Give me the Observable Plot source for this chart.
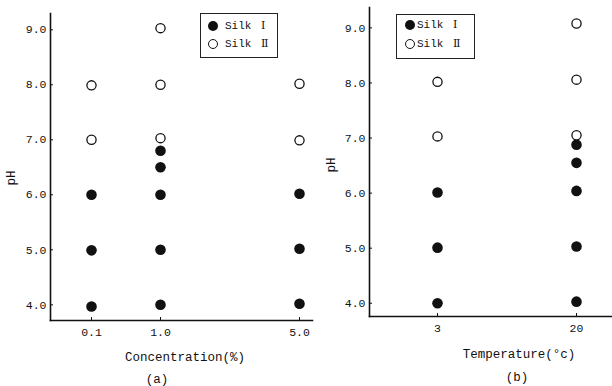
<!DOCTYPE html>
<html><head><meta charset="utf-8">
<script src="https://cdn.jsdelivr.net/npm/d3@7"></script>
<script src="https://cdn.jsdelivr.net/npm/@observablehq/plot@0.6"></script>
<style>
html,body{margin:0;padding:0;background:#fff;}
#wrap{position:relative;width:612px;height:386px;overflow:hidden;font-family:"Liberation Mono",monospace;color:#111;background:#fff;}
.panel{position:absolute;top:0;}
.panel svg{overflow:visible;background:transparent !important;}
.lbl{position:absolute;white-space:nowrap;font-size:12.5px;line-height:1;transform:translate(-50%,-50%);}
.ylbl{position:absolute;white-space:nowrap;font-size:12.5px;line-height:1;transform:translate(-50%,-50%) rotate(-90deg);}
.legend{position:absolute;border:1.4px solid #222;box-sizing:border-box;font-size:11px;background:#fff;}
.legend .mk{position:absolute;width:10px;height:10px;border-radius:50%;box-sizing:border-box;transform:translate(-50%,-50%);}
.legend .tx{position:absolute;white-space:nowrap;line-height:1;transform:translateY(-50%);}
.legend .num{font-family:"DejaVu Serif",serif;font-size:11px;margin-left:3px;}
</style>
</head><body>
<div id="wrap">
  <div class="panel" id="pa" style="left:0px"></div>
  <div class="panel" id="pb" style="left:306px"></div>
</div>
<script>
// ---- data ----
const seriesNames = ["Silk", "Silk"];
const seriesNumerals = ["Ⅰ", "Ⅱ"];
const yTicks = [4, 5, 6, 7, 8, 9];
const concTicks = [0.1, 1.0, 5.0];
const tempTicks = [3, 20];

// (a) pH vs concentration
const concSilkI_x  = [0.1, 0.1, 0.1, 1.0, 1.0, 1.0, 1.0, 1.0, 5.0, 5.0, 5.0];
const concSilkI_pH = [3.97, 4.99, 6.0, 4.0, 5.0, 6.0, 6.5, 6.8, 4.02, 5.02, 6.02];
const concSilkII_x  = [0.1, 0.1, 1.0, 1.0, 1.0, 5.0, 5.0];
const concSilkII_pH = [7.0, 7.99, 7.03, 8.0, 9.03, 6.99, 8.02];

// (b) pH vs temperature
const tempSilkI_x  = [3, 3, 3, 20, 20, 20, 20, 20];
const tempSilkI_pH = [4.0, 5.01, 6.01, 4.03, 5.03, 6.04, 6.55, 6.88];
const tempSilkII_x  = [3, 3, 20, 20, 20];
const tempSilkII_pH = [7.03, 8.02, 7.05, 8.06, 9.08];

const pts = (xs, ys) => xs.map((x, i) => ({x, y: ys[i]}));
const ink = "#111";
const fmt1 = d3.format(".1f");

function panel({width, marginLeft, marginRight, marginTop, marginBottom, yDomain, xScale, xTicks, xFmt, silkI, silkII}) {
  return Plot.plot({
    width, height: 386, marginLeft, marginRight, marginTop, marginBottom,
    style: {fontFamily: '"Liberation Mono", monospace', fontSize: "11.5px", color: ink, background: "transparent", overflow: "visible"},
    x: xScale,
    y: {domain: yDomain},
    marks: [
      Plot.frame({anchor: "left", stroke: ink, strokeWidth: 1.6}),
      Plot.frame({anchor: "bottom", stroke: ink, strokeWidth: 1.6}),
      Plot.axisY({ticks: yTicks, tickFormat: fmt1, tickSize: 0, tickPadding: 4, label: null}),
      Plot.axisY({ticks: yTicks, tickFormat: () => "", tickSize: 3, dx: 3, label: null, strokeWidth: 1}),
      Plot.axisX({ticks: xTicks, tickFormat: xFmt, tickSize: 0, tickPadding: 7, label: null}),
      Plot.axisX({ticks: xTicks, tickFormat: () => "", tickSize: 3, dy: -3, label: null, strokeWidth: 1}),
      Plot.dot(silkI, {x: "x", y: "y", r: 5.3, fill: ink, stroke: "none"}),
      Plot.dot(silkII, {x: "x", y: "y", r: 4.6, fill: "white", stroke: ink, strokeWidth: 1.3})
    ]
  });
}

document.getElementById("pa").appendChild(panel({
  width: 314, marginLeft: 50, marginRight: 2, marginTop: 13, marginBottom: 66,
  yDomain: [3.715, 9.296],
  xScale: {type: "linear", domain: concTicks, range: [91, 160, 299]},
  xTicks: concTicks, xFmt: fmt1,
  silkI: pts(concSilkI_x, concSilkI_pH), silkII: pts(concSilkII_x, concSilkII_pH)
}));

document.getElementById("pb").appendChild(panel({
  width: 306, marginLeft: 63, marginRight: 0, marginTop: 7, marginBottom: 70,
  yDomain: [3.76, 9.37],
  xScale: {type: "linear", domain: [3, 20], range: [131, 270]},
  xTicks: tempTicks, xFmt: d3.format("d"),
  silkI: pts(tempSilkI_x, tempSilkI_pH), silkII: pts(tempSilkII_x, tempSilkII_pH)
}));

// titles, captions and legends
const wrap = document.getElementById("wrap");
function addText(cls, text, x, y) {
  const d = document.createElement("div");
  d.className = cls; d.textContent = text;
  d.style.left = x + "px"; d.style.top = y + "px";
  wrap.appendChild(d);
}
addText("lbl", "Concentration(%)", 185, 358);
addText("lbl", "(a)", 157, 380);
addText("ylbl", "pH", 12, 178);
addText("lbl", "Temperature(°c)", 519, 355);
addText("lbl", "(b)", 517, 378);
addText("ylbl", "pH", 332, 165);

function addLegend(left, top, w, h, mx, rows, tx) {
  const box = document.createElement("div");
  box.className = "legend";
  Object.assign(box.style, {left: left + "px", top: top + "px", width: w + "px", height: h + "px"});
  seriesNames.forEach((name, i) => {
    const m = document.createElement("div");
    m.className = "mk";
    Object.assign(m.style, {left: mx + "px", top: rows[i] + "px"});
    if (i === 0) { m.style.background = ink; }
    else { m.style.background = "#fff"; m.style.border = "1.3px solid " + ink; }
    box.appendChild(m);
    const t = document.createElement("div");
    t.className = "tx";
    t.innerHTML = name + '&nbsp;<span class="num">' + seriesNumerals[i] + "</span>";
    Object.assign(t.style, {left: tx + "px", top: rows[i] + "px"});
    box.appendChild(t);
  });
  wrap.appendChild(box);
}
addLegend(200, 13, 78, 45, 12, [12, 30], 24);
addLegend(396, 14, 79, 45, 13, [10, 29], 20);
</script>
</body></html>
